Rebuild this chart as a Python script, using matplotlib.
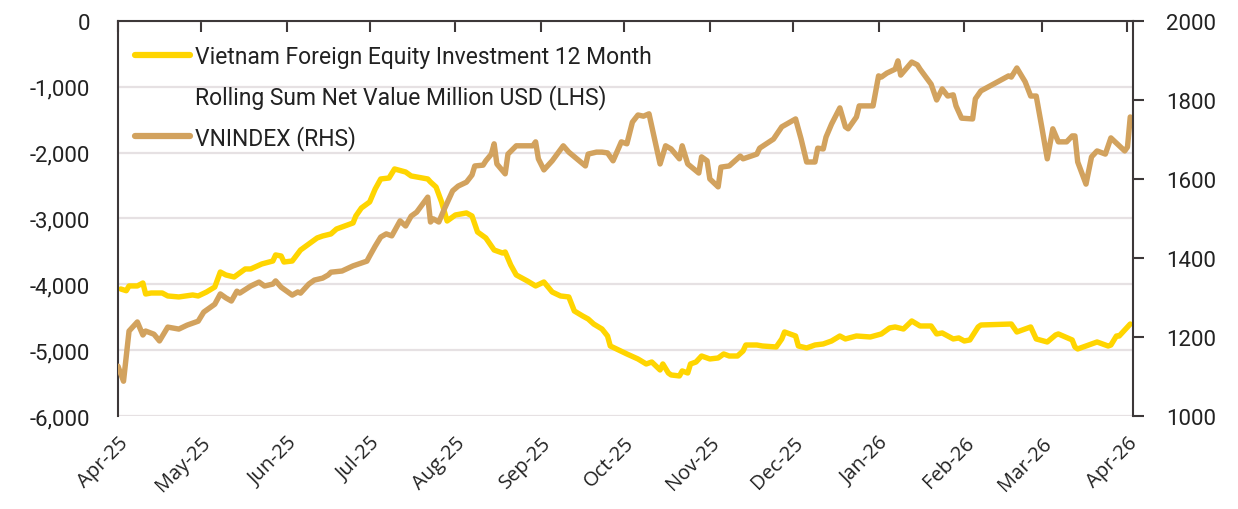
import matplotlib.pyplot as plt
import matplotlib.dates as mdates
import pandas as pd
from matplotlib.lines import Line2D
from matplotlib.ticker import FuncFormatter

# Vietnam foreign equity investment, 12m rolling sum net value (mn USD, LHS)
fx_dates = [
    "2025-04-02", "2025-04-04", "2025-04-05", "2025-04-08", "2025-04-10", "2025-04-11",
    "2025-04-13", "2025-04-17", "2025-04-19", "2025-04-23", "2025-04-28", "2025-04-30",
    "2025-05-03", "2025-05-06", "2025-05-08", "2025-05-10", "2025-05-13", "2025-05-17",
    "2025-05-19", "2025-05-23", "2025-05-27", "2025-05-28", "2025-05-30", "2025-05-31",
    "2025-06-03", "2025-06-06", "2025-06-12", "2025-06-14", "2025-06-17", "2025-06-19",
    "2025-06-25", "2025-06-26", "2025-06-28",
    "2025-07-01", "2025-07-03", "2025-07-05", "2025-07-08", "2025-07-10", "2025-07-14",
    "2025-07-16", "2025-07-22", "2025-07-23", "2025-07-25", "2025-07-27", "2025-07-29",
    "2025-08-01", "2025-08-05", "2025-08-07", "2025-08-09", "2025-08-12", "2025-08-13",
    "2025-08-15", "2025-08-18", "2025-08-19", "2025-08-21", "2025-08-23", "2025-08-27",
    "2025-08-30",
    "2025-09-02", "2025-09-05", "2025-09-08", "2025-09-11", "2025-09-13", "2025-09-16",
    "2025-09-18", "2025-09-20", "2025-09-23", "2025-09-25", "2025-09-26",
    "2025-10-02", "2025-10-06", "2025-10-09", "2025-10-11", "2025-10-14", "2025-10-15",
    "2025-10-17", "2025-10-18", "2025-10-21", "2025-10-22", "2025-10-24", "2025-10-25",
    "2025-10-27", "2025-10-29",
    "2025-11-01", "2025-11-04", "2025-11-06", "2025-11-08", "2025-11-11", "2025-11-13",
    "2025-11-14", "2025-11-18", "2025-11-20", "2025-11-25", "2025-11-27", "2025-11-28",
    "2025-12-02", "2025-12-03", "2025-12-06", "2025-12-09", "2025-12-12", "2025-12-15",
    "2025-12-18", "2025-12-20", "2025-12-24", "2025-12-29",
    "2026-01-02", "2026-01-05", "2026-01-07", "2026-01-10", "2026-01-13", "2026-01-16",
    "2026-01-20", "2026-01-22", "2026-01-24", "2026-01-28", "2026-01-30",
    "2026-02-01", "2026-02-03", "2026-02-06", "2026-02-07", "2026-02-18", "2026-02-20",
    "2026-02-25", "2026-02-27",
    "2026-03-03", "2026-03-06", "2026-03-07", "2026-03-12", "2026-03-13", "2026-03-14",
    "2026-03-21", "2026-03-25", "2026-03-26", "2026-03-28", "2026-03-29",
    "2026-04-02",
]
fx_values = [
    -4071, -4097, -4025, -4025, -3980, -4147, -4132, -4132, -4177, -4192, -4162, -4177,
    -4117, -4041, -3813, -3858, -3889, -3767, -3767, -3691, -3646, -3554, -3570, -3661,
    -3646, -3479, -3296, -3266, -3235, -3160, -3068, -2962, -2841,
    -2749, -2552, -2400, -2385, -2248, -2294, -2354, -2400, -2446, -2522, -2749, -3038,
    -2947, -2916, -2962, -3205, -3296, -3357, -3479, -3524, -3509, -3706, -3858, -3949,
    -4025,
    -3965, -4117, -4177, -4192, -4405, -4481, -4527, -4603, -4679, -4785, -4937,
    -5058, -5134, -5210, -5180, -5301, -5210, -5347, -5377, -5392, -5316, -5347, -5210,
    -5180, -5089,
    -5134, -5119, -5058, -5089, -5089, -5013, -4922, -4922, -4937, -4952, -4830, -4724,
    -4785, -4937, -4967, -4922, -4906, -4861, -4785, -4830, -4785, -4800,
    -4754, -4663, -4648, -4679, -4557, -4633, -4633, -4754, -4739, -4830, -4815,
    -4861, -4845, -4648, -4618, -4603, -4724, -4648, -4830,
    -4876, -4770, -4754, -4845, -4952, -4982, -4876, -4937, -4922, -4785, -4785,
    -4603,
]

# VNINDEX (RHS)
vn_dates = [
    "2025-04-01", "2025-04-03", "2025-04-05", "2025-04-08", "2025-04-10", "2025-04-11",
    "2025-04-14", "2025-04-16", "2025-04-19", "2025-04-23", "2025-04-26", "2025-04-30",
    "2025-05-02", "2025-05-04", "2025-05-06", "2025-05-08", "2025-05-10", "2025-05-12",
    "2025-05-14", "2025-05-15", "2025-05-19", "2025-05-22", "2025-05-24", "2025-05-27",
    "2025-05-28", "2025-05-30",
    "2025-06-03", "2025-06-05", "2025-06-06", "2025-06-09", "2025-06-11", "2025-06-14",
    "2025-06-16", "2025-06-17", "2025-06-21", "2025-06-25", "2025-06-30",
    "2025-07-01", "2025-07-03", "2025-07-05", "2025-07-07", "2025-07-09", "2025-07-12",
    "2025-07-14", "2025-07-16", "2025-07-18", "2025-07-22", "2025-07-23", "2025-07-24",
    "2025-07-26", "2025-07-28", "2025-07-31",
    "2025-08-02", "2025-08-05", "2025-08-07", "2025-08-08", "2025-08-11", "2025-08-12",
    "2025-08-14", "2025-08-15", "2025-08-16", "2025-08-19", "2025-08-20", "2025-08-23",
    "2025-08-29", "2025-08-30", "2025-08-31",
    "2025-09-02", "2025-09-05", "2025-09-09", "2025-09-11", "2025-09-17", "2025-09-18",
    "2025-09-21", "2025-09-23", "2025-09-25", "2025-09-27", "2025-09-30",
    "2025-10-02", "2025-10-04", "2025-10-06", "2025-10-08", "2025-10-10", "2025-10-12",
    "2025-10-14", "2025-10-16", "2025-10-18", "2025-10-21", "2025-10-22", "2025-10-24",
    "2025-10-28", "2025-10-29", "2025-10-31",
    "2025-11-01", "2025-11-04", "2025-11-05", "2025-11-08", "2025-11-12", "2025-11-13",
    "2025-11-18", "2025-11-19", "2025-11-24", "2025-11-27",
    "2025-12-02", "2025-12-04", "2025-12-06", "2025-12-09", "2025-12-10", "2025-12-12",
    "2025-12-13", "2025-12-15", "2025-12-18", "2025-12-20", "2025-12-21", "2025-12-24",
    "2025-12-25", "2025-12-30",
    "2026-01-01", "2026-01-02", "2026-01-04", "2026-01-07", "2026-01-08", "2026-01-09",
    "2026-01-13", "2026-01-15", "2026-01-16", "2026-01-20", "2026-01-22", "2026-01-24",
    "2026-01-26", "2026-01-28", "2026-01-29", "2026-01-31",
    "2026-02-04", "2026-02-05", "2026-02-07", "2026-02-17", "2026-02-18", "2026-02-20",
    "2026-02-23", "2026-02-25", "2026-02-27",
    "2026-03-01", "2026-03-03", "2026-03-05", "2026-03-07", "2026-03-10", "2026-03-12",
    "2026-03-13", "2026-03-14", "2026-03-17", "2026-03-19", "2026-03-21", "2026-03-24",
    "2026-03-26", "2026-03-29", "2026-03-31",
    "2026-04-01", "2026-04-02",
]
vn_values = [
    1126, 1088, 1215, 1238, 1205, 1215, 1207, 1190, 1225, 1220, 1230, 1240,
    1263, 1273, 1283, 1309, 1299, 1291, 1316, 1311, 1329, 1339, 1329, 1334, 1342, 1326,
    1306, 1314, 1311, 1334, 1344, 1349, 1357, 1364, 1367, 1380, 1392,
    1405, 1430, 1453, 1461, 1456, 1494, 1481, 1506, 1516, 1554, 1491, 1499, 1491, 1524, 1570,
    1582, 1592, 1610, 1633, 1635, 1646, 1663, 1689, 1638, 1613, 1663, 1684, 1684, 1694, 1651,
    1623, 1646, 1684, 1668, 1633, 1663, 1668, 1668, 1666, 1646, 1694,
    1689, 1744, 1762, 1759, 1765, 1701, 1638, 1684, 1676, 1651, 1684, 1638, 1615, 1656, 1646,
    1600, 1580, 1630, 1633, 1658, 1651, 1663, 1678, 1701, 1732,
    1752, 1701, 1643, 1643, 1678, 1676, 1706, 1739, 1780, 1732, 1727, 1757, 1785, 1785,
    1861, 1858, 1868, 1878, 1899, 1863, 1896, 1889, 1878, 1840, 1800, 1828, 1810, 1813,
    1785, 1754,
    1752, 1803, 1823, 1861, 1858, 1881, 1846, 1810, 1810,
    1732, 1651, 1727, 1694, 1694, 1709, 1709, 1643, 1587, 1656, 1671, 1663, 1704, 1684, 1671,
    1681, 1757,
]

fx_label = "Vietnam Foreign Equity Investment 12 Month"
fx_label2 = "Rolling Sum Net Value Million USD (LHS)"
vn_label = "VNINDEX (RHS)"

YELLOW = "#FFD500"
TAN = "#D2A25E"
DARK = "#3D3839"
GRID = "#E6E1E3"
FONT = "Roboto"

fig = plt.figure(figsize=(12.38, 5.10), dpi=100)
ax = fig.add_axes([0.0953, 0.1824, 0.8199, 0.7745])
ax2 = ax.twinx()

ax.plot(pd.to_datetime(fx_dates), fx_values, color=YELLOW, lw=3.9,
        solid_joinstyle="round", solid_capstyle="round")
ax2.plot(pd.to_datetime(vn_dates), vn_values, color=TAN, lw=3.9,
         solid_joinstyle="round", solid_capstyle="round")

ax.set_xlim(pd.Timestamp("2025-04-01"), pd.Timestamp("2026-04-03"))
ax.set_ylim(-6000, 0)
ax2.set_ylim(1000, 2000)

ax.set_yticks(range(-6000, 1, 1000))
ax.yaxis.set_major_formatter(FuncFormatter(lambda v, p: f"{v:,.0f}"))
ax2.set_yticks(range(1000, 2001, 200))

ax.grid(axis="y", color=GRID, lw=1.6)
ax.set_axisbelow(True)

for s in ["bottom", "right"]:
    ax.spines[s].set_visible(False)
for s in ["top", "left"]:
    ax.spines[s].set_color(DARK)
    ax.spines[s].set_linewidth(1.5)
for s in ["top", "bottom", "left"]:
    ax2.spines[s].set_visible(False)
ax2.spines["right"].set_color(DARK)
ax2.spines["right"].set_linewidth(1.5)

ax.xaxis.set_major_locator(mdates.MonthLocator())
ax.xaxis.set_major_formatter(mdates.DateFormatter("%b-%y"))
ax.tick_params(axis="x", top=True, bottom=False, labelbottom=True, labeltop=False,
               direction="in", length=8, width=1.5, color=DARK, pad=12)
for lab in ax.get_xticklabels():
    lab.set_rotation(45)
    lab.set_ha("right")
    lab.set_rotation_mode("anchor")
    lab.set_fontfamily("Open Sans")
    lab.set_fontsize(14.5)
    lab.set_color("#222222")

ax.tick_params(axis="y", length=0, pad=20, labelsize=16, labelcolor="#222222")
for lab in ax.get_yticklabels():
    lab.set_fontfamily(FONT)
ax2.tick_params(axis="y", direction="out", length=8, width=1.5, color=DARK,
                pad=16, labelsize=16, labelcolor="#222222")
for lab in ax2.get_yticklabels():
    lab.set_fontfamily(FONT)

handles = [Line2D([], [], color=YELLOW, lw=4.5, solid_capstyle="round"),
           Line2D([], [], color="none"),
           Line2D([], [], color=TAN, lw=4.5, solid_capstyle="round")]
leg = ax2.legend(handles, [fx_label, fx_label2, vn_label], loc="upper left",
                 bbox_to_anchor=(-0.004, 0.992), frameon=False,
                 handlelength=2.4, handletextpad=0.25, labelspacing=0.7,
                 prop={"family": FONT, "size": 16.5})
for t in leg.get_texts():
    t.set_color("#222222")

fig.savefig("out.png", dpi=100)
